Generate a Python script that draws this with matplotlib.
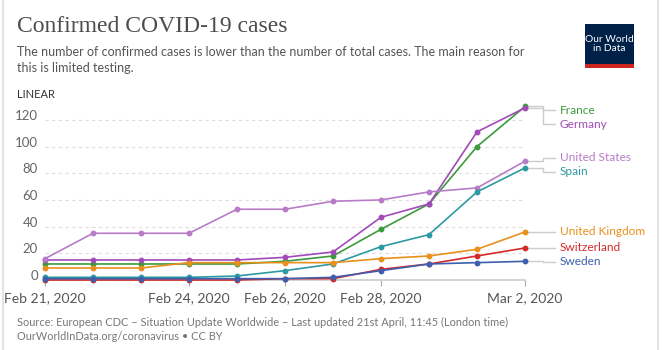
import numpy as np
import matplotlib
matplotlib.use('Agg')
import matplotlib.pyplot as plt
import matplotlib.dates as mdates
import matplotlib.transforms as mtransforms
from matplotlib.patches import Rectangle
from matplotlib.lines import Line2D

plt.rcParams['font.family'] = ['Lato', 'DejaVu Sans']

# Data (confirmed cases per day)
dates = ['2020-02-21', '2020-02-22', '2020-02-23', '2020-02-24', '2020-02-25', '2020-02-26',
         '2020-02-27', '2020-02-28', '2020-02-29', '2020-03-01', '2020-03-02']
france = [12, 12, 12, 12, 12, 14, 18, 38, 57, 100, 130]
germany = [15, 15, 15, 15, 15, 17, 21, 47, 57, 111, 129]
united_states = [16, 35, 35, 35, 53, 53, 59, 60, 66, 69, 89]
spain = [2, 2, 2, 2, 3, 7, 12, 25, 34, 66, 84]
united_kingdom = [9, 9, 9, 13, 13, 13, 13, 16, 18, 23, 36]
switzerland = [0, 0, 0, 0, 0, 1, 1, 8, 12, 18, 24]
sweden = [1, 1, 1, 1, 1, 1, 2, 7, 12, 13, 14]

countries = ['France', 'Germany', 'United States', 'Spain', 'United Kingdom', 'Switzerland', 'Sweden']
series = [france, germany, united_states, spain, united_kingdom, switzerland, sweden]
colors = ['#3c9a3c', '#a24bb8', '#b77cc7', '#2c9aa3', '#e8901c', '#d42a2a', '#3f5fae']

x_ticks = ['2020-02-21', '2020-02-24', '2020-02-26', '2020-02-28', '2020-03-02']
x_tick_labels = ['Feb 21, 2020', 'Feb 24, 2020', 'Feb 26, 2020', 'Feb 28, 2020', 'Mar 2, 2020']
y_ticks = [0, 20, 40, 60, 80, 100, 120]

W, H = 662, 350
PX_PER_UNIT = 1.3347
PX_PER_DAY = 48.0


def spread_labels(values, gap, top):
    # push overlapping labels apart, keeping each group centred on its values
    order = sorted(range(len(values)), key=lambda i: -values[i])
    groups = [[i] for i in order]
    while True:
        pos = {}
        for g in groups:
            centre = np.mean([values[i] for i in g])
            start = centre + gap * (len(g) - 1) / 2
            start = min(start, top)
            for k, i in enumerate(g):
                pos[i] = start - k * gap
        merged = False
        for j in range(len(groups) - 1):
            if pos[groups[j][-1]] - pos[groups[j + 1][0]] < gap - 1e-9:
                groups[j] = groups[j] + groups.pop(j + 1)
                merged = True
                break
        if not merged:
            return [pos[i] for i in range(len(values))]


fig = plt.figure(figsize=(W / 100, H / 100), dpi=100)
ax = fig.add_axes([45 / W, 1 - 280 / H, 480 / W, 130 * PX_PER_UNIT / H])

x = mdates.date2num(np.array(dates, dtype='datetime64[D]'))
for name, vals, color in zip(countries, series, colors):
    ax.plot(x, vals, color=color, lw=1.2, marker='o', ms=3.2, clip_on=False, zorder=3)

ax.set_xlim(x[0], x[-1])
ax.set_ylim(0, 130)

# dashed horizontal grid
ax.set_yticks(y_ticks)
ax.yaxis.grid(True, ls=(0, (3, 3)), color='#dddddd', lw=0.8)
ax.tick_params(axis='y', length=0, labelleft=False)
offset = mtransforms.ScaledTranslation(-0.07, 0.04, fig.dpi_scale_trans)
for v in y_ticks:
    ax.text(0, v, str(v), transform=ax.get_yaxis_transform() + offset,
            ha='right', va='center', fontsize=9.5, color='#666666')

ax.set_xticks(mdates.date2num(np.array(x_ticks, dtype='datetime64[D]')))
ax.set_xticklabels(x_tick_labels)
ax.tick_params(axis='x', length=4, color='#aaaaaa', pad=5, labelsize=10, labelcolor='#555555')

for side in ['top', 'right', 'left']:
    ax.spines[side].set_visible(False)
ax.spines['bottom'].set_color('#cccccc')
ax.spines['bottom'].set_linewidth(1.2)

# end labels with connector lines
last_values = [s[-1] for s in series]
label_y = spread_labels(last_values, 14 / PX_PER_UNIT, 127)
x_end = x[-1]
for name, color, v, ly in zip(countries, colors, last_values, label_y):
    x0 = x_end + 3 / PX_PER_DAY
    xe = x_end + 18 / PX_PER_DAY
    x1 = x_end + 30 / PX_PER_DAY
    ax.plot([x0, xe, xe, x1], [v, v, ly, ly], color='#cccccc', lw=1, clip_on=False, zorder=1)
    ax.text(x_end + 35 / PX_PER_DAY, ly, name, color=color, fontsize=8.6, va='center', ha='left')

# header
fig.text(17 / W, 1 - 27 / H, 'Confirmed COVID-19 cases', family='Liberation Serif',
         fontsize=17, color='#4d4d4d', va='center')
fig.text(17 / W, 1 - 52 / H, 'The number of confirmed cases is lower than the number of total cases. The main reason for',
         fontsize=9.0, color='#555555', va='center')
fig.text(17 / W, 1 - 68 / H, 'this is limited testing.', fontsize=9.0, color='#555555', va='center')
fig.text(17 / W, 1 - 95 / H, 'LINEAR', fontsize=8, color='#333333', va='center')

# logo
fig.add_artist(Rectangle((585 / W, 1 - 64 / H), 49 / W, 40 / H, transform=fig.transFigure,
                         color='#002147', lw=0))
fig.add_artist(Rectangle((585 / W, 1 - 68 / H), 49 / W, 4 / H, transform=fig.transFigure,
                         color='#ce261e', lw=0))
fig.text(609.5 / W, 1 - 44 / H, 'Our World\nin Data', color='white', fontsize=7.4,
         ha='center', va='center', linespacing=1.05)

# footer
fig.text(17 / W, 1 - 322 / H,
         'Source: European CDC – Situation Update Worldwide – Last updated 21st April, 11:45 (London time)',
         fontsize=7.9, color='#777777', va='center')
fig.text(17 / W, 1 - 337 / H, 'OurWorldInData.org/coronavirus • CC BY', fontsize=7.9, color='#777777', va='center')

# light frame
fig.add_artist(Line2D([3 / W, 3 / W], [0, 1], color='#e3e3e3', lw=1.5))
fig.add_artist(Line2D([658 / W, 658 / W], [0, 1], color='#e3e3e3', lw=1.5))

fig.savefig('out.png', dpi=100, facecolor='white')
